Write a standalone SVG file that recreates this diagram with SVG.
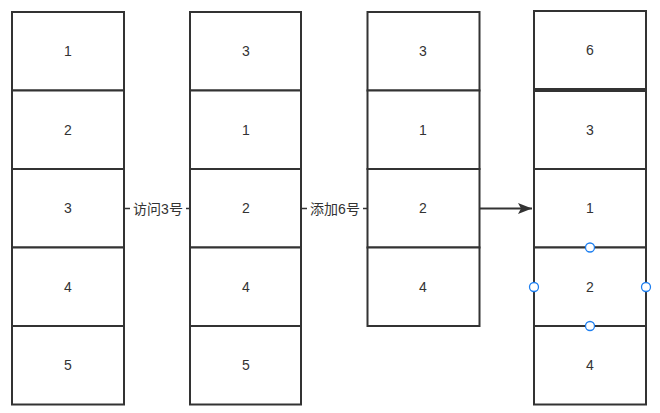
<svg xmlns="http://www.w3.org/2000/svg" width="660" height="413" viewBox="0 0 660 413">
<style>
.b{fill:#fff;stroke:#333;stroke-width:2}
.t{font-family:"Liberation Sans","Noto Sans CJK SC",sans-serif;font-size:14px;fill:#333;text-anchor:middle;dominant-baseline:central}
.e{stroke:#333;stroke-width:1.5;fill:none}
.h{fill:#fff;stroke:#1e7ff0;stroke-width:1.3}
</style>
<defs>
<marker id="a" markerWidth="16" markerHeight="12" refX="14" refY="6" orient="auto" markerUnits="userSpaceOnUse"><path d="M0,0.5 L14,6 L0,11.5 L3,6 Z" fill="#333"/></marker>
</defs>
<rect width="660" height="413" fill="#fff"/>
<g id="c1">
<g id="c1r1"><rect class="b" x="12" y="12" width="112" height="78.5"/><text class="t" x="68" y="51">1</text></g>
<g id="c1r2"><rect class="b" x="12" y="90.5" width="112" height="78.5"/><text class="t" x="68" y="130">2</text></g>
<g id="c1r3"><rect class="b" x="12" y="169" width="112" height="78.5"/><text class="t" x="68" y="208">3</text></g>
<g id="c1r4"><rect class="b" x="12" y="247.5" width="112" height="78.5"/><text class="t" x="68" y="287">4</text></g>
<g id="c1r5"><rect class="b" x="12" y="326" width="112" height="78.5"/><text class="t" x="68" y="365">5</text></g>
</g>
<g id="c2">
<g id="c2r1"><rect class="b" x="190" y="12" width="111" height="78.5"/><text class="t" x="246" y="51">3</text></g>
<g id="c2r2"><rect class="b" x="190" y="90.5" width="111" height="78.5"/><text class="t" x="246" y="130">1</text></g>
<g id="c2r3"><rect class="b" x="190" y="169" width="111" height="78.5"/><text class="t" x="246" y="208">2</text></g>
<g id="c2r4"><rect class="b" x="190" y="247.5" width="111" height="78.5"/><text class="t" x="246" y="287">4</text></g>
<g id="c2r5"><rect class="b" x="190" y="326" width="111" height="78.5"/><text class="t" x="246" y="365">5</text></g>
</g>
<g id="c3">
<g id="c3r1"><rect class="b" x="367.5" y="12" width="112" height="78.5"/><text class="t" x="423" y="51">3</text></g>
<g id="c3r2"><rect class="b" x="367.5" y="90.5" width="112" height="78.5"/><text class="t" x="423" y="130">1</text></g>
<g id="c3r3"><rect class="b" x="367.5" y="169" width="112" height="78.5"/><text class="t" x="423" y="208">2</text></g>
<g id="c3r4"><rect class="b" x="367.5" y="247.5" width="112" height="78.5"/><text class="t" x="423" y="287">4</text></g>
</g>
<g id="c4">
<g id="c4r0"><rect class="b" x="534" y="11" width="112" height="78"/><text class="t" x="590" y="50">6</text></g>
<g id="c4r1"><rect class="b" x="534" y="91" width="112" height="78"/><text class="t" x="590" y="130">3</text></g>
<g id="c4r2"><rect class="b" x="534" y="169" width="112" height="78.5"/><text class="t" x="590" y="208">1</text></g>
<g id="c4r3"><rect class="b" x="534" y="247.5" width="112" height="78.5"/><text class="t" x="590" y="287">2</text></g>
<g id="c4r4"><rect class="b" x="534" y="326" width="112" height="78.5"/><text class="t" x="590" y="365">4</text></g>
</g>
<g id="edges">
<line class="e" x1="124" y1="208.5" x2="190" y2="208.5"/>
<rect x="130" y="199" width="56" height="19" fill="#fff"/>
<text class="t" x="158" y="209">访问3号</text>
<line class="e" x1="301" y1="208.5" x2="367" y2="208.5"/>
<rect x="307" y="199" width="56" height="19" fill="#fff"/>
<text class="t" x="335" y="209">添加6号</text>
<line x1="480" y1="208.5" x2="532" y2="208.5" style="stroke:#333;stroke-width:2.2;fill:none" marker-end="url(#a)"/>
</g>
<g id="handles">
<circle class="h" cx="590" cy="247.5" r="4.5"/>
<circle class="h" cx="534" cy="287" r="4.5"/>
<circle class="h" cx="646" cy="287" r="4.5"/>
<circle class="h" cx="590" cy="326" r="4.5"/>
</g>
</svg>
